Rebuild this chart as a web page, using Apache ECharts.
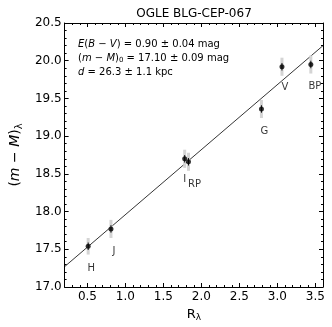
<!DOCTYPE html>
<html>
<head>
<meta charset="utf-8">
<script src="https://cdn.jsdelivr.net/npm/echarts@6/dist/echarts.min.js"></script>
<style>
html,body{margin:0;padding:0;background:#fff}
#main{width:332px;height:327px}
</style>
</head>
<body>
<div id="main"></div>
<script>
// bands and the values
var bands = ['H', 'J', 'I', 'RP', 'G', 'V', 'BP'];
var rLambda = [0.51, 0.81, 1.78, 1.83, 2.79, 3.06, 3.44];
var distMod = [17.54, 17.77, 18.70, 18.66, 19.36, 19.92, 19.95];
var errOuter = [0.11, 0.12, 0.12, 0.12, 0.12, 0.12, 0.12];
var errInner = [0.05, 0.05, 0.05, 0.05, 0.05, 0.05, 0.05];
var fitLine = [[0.2, 17.27], [3.6, 20.20]];
var xTickVals = [0.5, 1.0, 1.5, 2.0, 2.5, 3.0, 3.5];

var FONT = 'DejaVu Sans';
// label nudges (px) under each point
var labelNudge = [[3, 22], [3, 22], [0, 21], [6, 23], [3, 22], [3, 21], [4, 22]];

var myChart = echarts.init(document.getElementById('main'));

var points = [];
var errs = [];
for (var i = 0; i < bands.length; i++) {
    points.push({ value: [rLambda[i], distMod[i]], name: bands[i], label: { offset: labelNudge[i] } });
    errs.push([rLambda[i], distMod[i], errOuter[i], errInner[i]]);
}

function xAxisBase(pos, minor) {
    return {
        type: 'value', min: 0.2, max: 3.6, position: pos,
        interval: minor ? 0.1 : undefined,
        axisLine: { show: !minor, lineStyle: { color: '#000', width: 1 } },
        axisTick: minor
            ? { show: true, inside: true, length: 2, lineStyle: { color: '#000' } }
            : { show: true, inside: true, length: 4, customValues: xTickVals, lineStyle: { color: '#000' } },
        axisLabel: { show: false },
        splitLine: { show: false }
    };
}

var xMain = xAxisBase('bottom', false);
xMain.axisLabel = {
    show: true, customValues: xTickVals, margin: 4,
    color: '#000', fontFamily: FONT, fontSize: 12,
    formatter: function (v) { return v.toFixed(1); }
};
xMain.name = 'R{s|λ}';
xMain.nameLocation = 'middle';
xMain.nameGap = 20;
xMain.nameTextStyle = {
    color: '#000', fontFamily: FONT, fontSize: 13,
    rich: { s: { fontSize: 9, verticalAlign: 'bottom', fontFamily: FONT, padding: [6, 0, 0, 0] } }
};

function yAxisBase(pos) {
    return {
        type: 'value', min: 17, max: 20.5, interval: 0.5, position: pos,
        axisLine: { show: true, lineStyle: { color: '#000', width: 1 } },
        axisTick: { show: true, inside: true, length: 4, lineStyle: { color: '#000' } },
        minorTick: { show: true, splitNumber: 5, length: 2, lineStyle: { color: '#000' } },
        axisLabel: { show: false },
        splitLine: { show: false }
    };
}

var yMain = yAxisBase('left');
yMain.axisLabel = {
    show: true, margin: 3, color: '#000', fontFamily: FONT, fontSize: 12,
    formatter: function (v) { return v.toFixed(1); }
};
yMain.name = '({i|m} − {i|M}){s|λ}';
yMain.nameLocation = 'middle';
yMain.nameGap = 30;
yMain.nameRotate = 90;
yMain.nameTextStyle = {
    color: '#000', fontFamily: FONT, fontSize: 14,
    rich: {
        i: { fontStyle: 'italic', fontFamily: FONT, fontSize: 14 },
        s: { fontSize: 10, fontFamily: FONT, padding: [8, 0, 0, 0] }
    }
};

var option = {
    animation: false,
    title: {
        text: 'OGLE BLG-CEP-067',
        left: 189, top: 3, textAlign: 'center',
        textStyle: { fontFamily: FONT, fontSize: 12, fontWeight: 'normal', color: '#000' }
    },
    grid: { left: 55, right: 9, top: 23, bottom: 40 },
    xAxis: [xMain, xAxisBase('top', false), xAxisBase('bottom', true), xAxisBase('top', true)],
    yAxis: [yMain, yAxisBase('right')],
    graphic: [{
        type: 'text', left: 78, top: 37,
        style: {
            text: '{i|E}({i|B} − {i|V}) = 0.90 ± 0.04 mag\n' +
                  '({i|m} − {i|M}){s|0} = 17.10 ± 0.09 mag\n' +
                  '{i|d} = 26.3 ± 1.1 kpc',
            fontFamily: FONT, fontSize: 10, fill: '#000', lineHeight: 14,
            rich: {
                i: { fontStyle: 'italic', fontFamily: FONT, fontSize: 10, lineHeight: 14 },
                s: { fontSize: 7, fontFamily: FONT, padding: [5, 0, 0, 0], lineHeight: 14 }
            }
        }
    }],
    series: [
        {
            type: 'line', data: fitLine, showSymbol: false, symbol: 'none',
            lineStyle: { color: '#000', width: 0.8 }, z: 1, silent: true
        },
        {
            type: 'custom', data: errs, z: 2,
            encode: { x: 0, y: 1 },
            renderItem: function (params, api) {
                var x = api.value(0), y = api.value(1);
                var eo = api.value(2), ei = api.value(3);
                var t1 = api.coord([x, y + eo]), b1 = api.coord([x, y - eo]);
                var t2 = api.coord([x, y + ei]), b2 = api.coord([x, y - ei]);
                return {
                    type: 'group',
                    children: [
                        { type: 'line', shape: { x1: t1[0], y1: t1[1], x2: b1[0], y2: b1[1] },
                          style: { stroke: '#d4d4d4', lineWidth: 3 } },
                        { type: 'line', shape: { x1: t2[0], y1: t2[1], x2: b2[0], y2: b2[1] },
                          style: { stroke: '#111', lineWidth: 1 } }
                    ]
                };
            }
        },
        {
            type: 'scatter', data: points, symbol: 'circle', symbolSize: 5, z: 3,
            itemStyle: { color: '#000' },
            label: {
                show: true, position: 'inside',
                formatter: function (p) { return p.name; },
                color: '#000', fontFamily: FONT, fontSize: 10
            }
        }
    ]
};

myChart.setOption(option);
</script>
</body>
</html>
